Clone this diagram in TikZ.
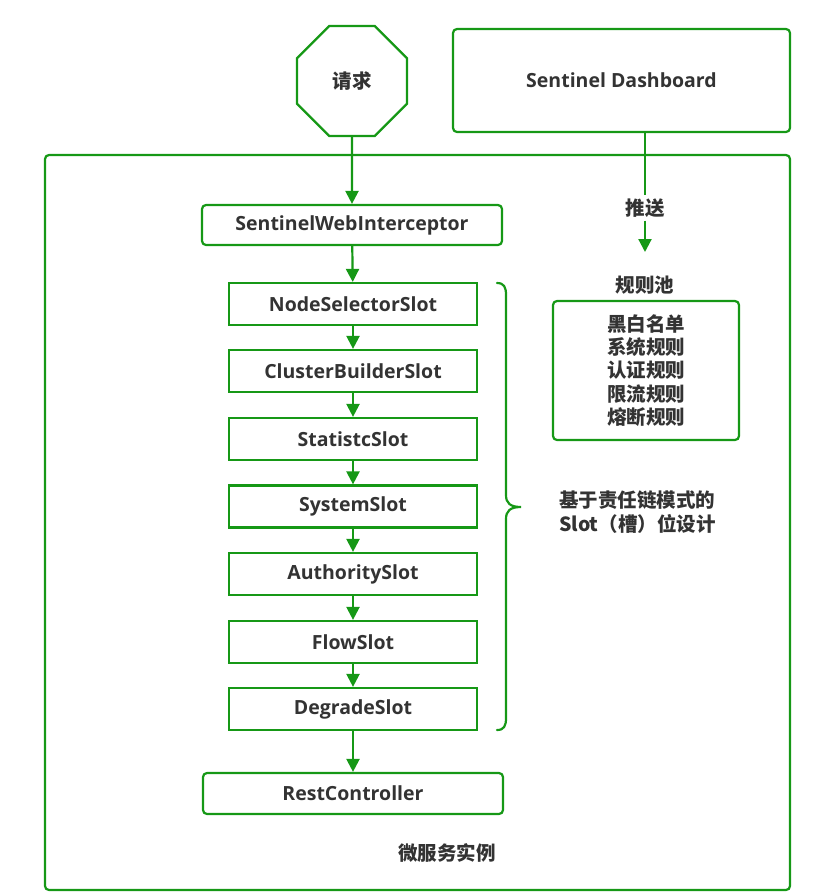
\documentclass[tikz,border=0pt]{standalone}
\usepackage{fontspec}
\setmainfont{Open Sans}
\newfontfamily\cjk{Noto Sans CJK SC}
\usetikzlibrary{arrows.meta,shapes.geometric}
\definecolor{gr}{RGB}{22,152,22}
\definecolor{tx}{RGB}{51,51,51}
\begin{document}
\begin{tikzpicture}[x=1pt,y=-1pt,
  lbl/.style={text=tx, font=\bfseries\fontsize{19.5}{23.3}\selectfont, inner sep=1pt},
  clbl/.style={text=tx, font=\cjk\bfseries\fontsize{19.5}{23.3}\selectfont, inner sep=1pt},
  boxln/.style={draw=gr, line width=2.2pt, inner sep=0pt},
  slot/.style={lbl, boxln, minimum width=248pt, minimum height=42pt},
  rbox/.style={lbl, boxln, rounded corners=4pt},
  arr/.style={draw=gr, line width=2.2pt, -{Triangle[length=13pt,width=13pt]}}]
\useasboundingbox (0,0) rectangle (839,895);
\node[rbox, minimum width=745pt, minimum height=735pt] (outer) at (417.5,522.5) {};
\node[clbl, boxln, regular polygon, regular polygon sides=8, minimum size=119pt] (req) at (352,81) {请求};
\node[rbox, minimum width=337pt, minimum height=103pt] (dash) at (621.5,80.5) {Sentinel Dashboard};
\node[rbox, minimum width=300pt, minimum height=40pt] (swi) at (352,225) {SentinelWebInterceptor};
\node[slot] (s1) at (353,304) {NodeSelectorSlot};
\node[slot] (s2) at (353,371) {ClusterBuilderSlot};
\node[slot] (s3) at (353,439) {StatistcSlot};
\node[slot] (s4) at (353,506.5) {SystemSlot};
\node[slot] (s5) at (353,574) {AuthoritySlot};
\node[slot] (s6) at (353,642) {FlowSlot};
\node[slot] (s7) at (353,709) {DegradeSlot};
\node[rbox, minimum width=300pt, minimum height=41pt] (rest) at (353,793.5) {RestController};
\node[clbl, fill=white, inner sep=3pt] (push) at (645,208) {推送};
\coordinate (pushtop) at (645,132);
\coordinate (pushend) at (645,252);
\node[clbl] (pool) at (645,285) {规则池};
\node[clbl, boxln, rounded corners=4pt, minimum width=186pt, minimum height=139pt, align=center] (rules) at (646,370.5) {黑白名单\\系统规则\\认证规则\\限流规则\\熔断规则};
\node[clbl, anchor=west, align=left] (slotdesc) at (558,512) {基于责任链模式的\\Slot（槽）位设计};
\node[clbl] (ms) at (447,853) {微服务实例};
\draw[arr] (req) -- (swi);
\draw[arr] (swi) -- (s1);
\draw[arr] (s1) -- (s2);
\draw[arr] (s2) -- (s3);
\draw[arr] (s3) -- (s4);
\draw[arr] (s4) -- (s5);
\draw[arr] (s5) -- (s6);
\draw[arr] (s6) -- (s7);
\draw[arr] (s7) -- (rest);
\draw[draw=gr, line width=2.2pt] (pushtop) -- (push);
\draw[arr] (push) -- (pushend);
\draw[draw=gr, line width=2.2pt, line cap=round]
  (497,283) .. controls (504,283) and (506,287) .. (506,295) -- (506,495)
  .. controls (506,503) and (510,507) .. (521,507)
  .. controls (510,507) and (506,511) .. (506,519) -- (506,718)
  .. controls (506,726) and (504,730) .. (497,730);
\end{tikzpicture}
\end{document}
